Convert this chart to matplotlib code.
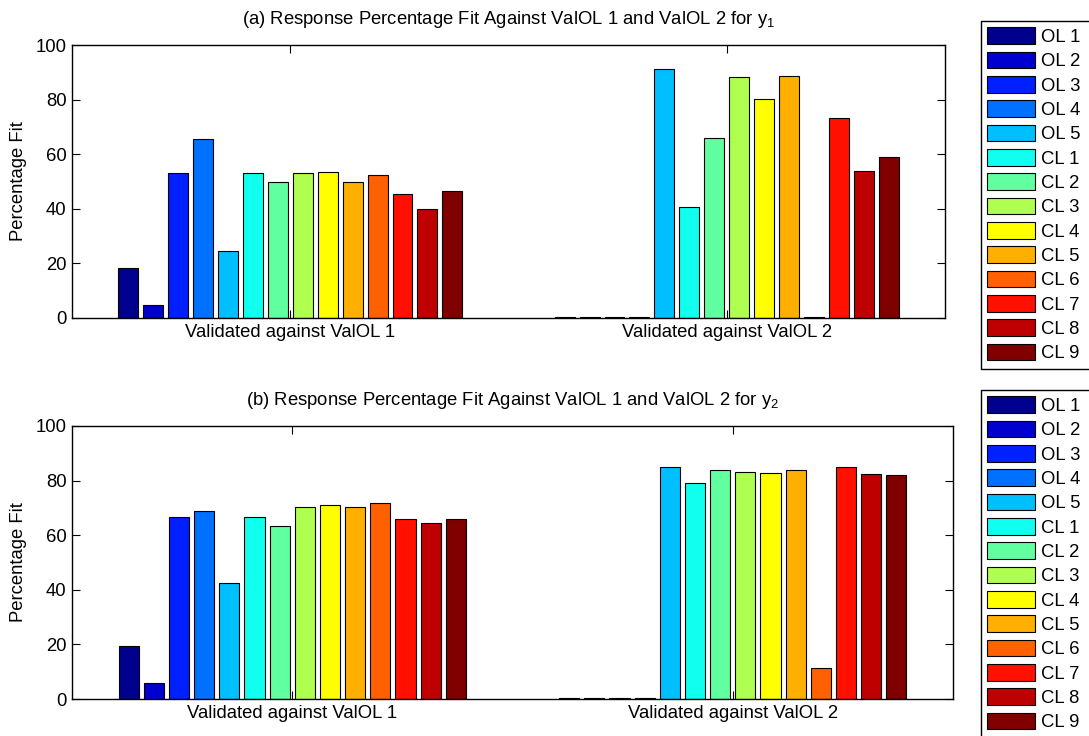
import numpy as np
import matplotlib
matplotlib.use('Agg')
import matplotlib.pyplot as plt

plt.rcParams['font.family'] = ['Liberation Sans', 'DejaVu Sans']
plt.rcParams['mathtext.fontset'] = 'custom'
plt.rcParams['mathtext.rm'] = 'Liberation Sans'
plt.rcParams['mathtext.it'] = 'Liberation Sans'
plt.rcParams['mathtext.default'] = 'regular'

series = ['OL 1', 'OL 2', 'OL 3', 'OL 4', 'OL 5',
          'CL 1', 'CL 2', 'CL 3', 'CL 4', 'CL 5', 'CL 6', 'CL 7', 'CL 8', 'CL 9']
groups = ['Validated against ValOL 1', 'Validated against ValOL 2']

y1_val1 = [18.4, 4.8, 53.2, 65.4, 24.7, 53.0, 49.7, 53.1, 53.5, 49.7, 52.4, 45.6, 39.9, 46.7]
y1_val2 = [0.3, 0.3, 0.3, 0.3, 91.1, 40.8, 66.0, 88.3, 80.4, 88.5, 0.3, 73.2, 53.9, 59.0]
y2_val1 = [19.4, 5.8, 66.8, 68.8, 42.6, 66.5, 63.3, 70.3, 71.1, 70.5, 71.9, 66.0, 64.3, 66.0]
y2_val2 = [0.3, 0.3, 0.3, 0.3, 84.9, 79.1, 83.7, 83.2, 82.9, 83.7, 11.2, 84.9, 82.5, 81.9]

titles = [r'(a) Response Percentage Fit Against ValOL 1 and ValOL 2 for $y_1$',
          r'(b) Response Percentage Fit Against ValOL 1 and ValOL 2 for $y_2$']


def matlab_jet(m=64):
    # same construction as matlab's jet(m)
    n = int(np.ceil(m / 4.0))
    u = np.concatenate([np.arange(1, n + 1) / n, np.ones(n - 1), np.arange(n, 0, -1) / n])
    g = int(np.ceil(n / 2.0)) - (1 if m % 4 == 1 else 0) + np.arange(1, len(u) + 1)
    r = g + n
    b = g - n
    J = np.zeros((m, 3))
    for idx, col in ((r, 0), (g, 1), (b, 2)):
        ok = (idx >= 1) & (idx <= m)
        J[idx[ok] - 1, col] = u[ok]
    return J


cmap = matlab_jet(64)
nser = len(series)
colors = [cmap[min(int((k * 64) // (nser - 1)), 63)] for k in range(nser)]


def draw_panel(ax, v1, v2, title, leg_top):
    x = np.arange(1, len(groups) + 1)
    gw = min(0.8, nser / (nser + 1.5))
    d = gw / nser
    for k in range(nser):
        off = (k - (nser - 1) / 2.0) * d
        ax.bar(x + off, [v1[k], v2[k]], width=d * 0.8, color=colors[k],
               edgecolor='k', linewidth=0.8, label=series[k])
    ax.set_xlim(0.5, 2.5)
    ax.set_ylim(0, 100)
    ax.set_xticks(x)
    ax.set_xticklabels(groups)
    ax.set_yticks(np.arange(0, 101, 20))
    ax.tick_params(direction='in', top=True, right=True, length=6, width=0.8,
                   labelsize=13.3, pad=4)
    for s in ax.spines.values():
        s.set_linewidth(1.0)
    ax.set_ylabel('Percentage Fit', fontsize=13.3, labelpad=6)
    ax.set_title(title, fontsize=13.3, pad=15)
    leg = ax.legend(loc='upper left', bbox_to_anchor=(981 / 1089., leg_top, 0.3, 0),
                    bbox_transform=fig.transFigure, mode='expand', borderaxespad=0,
                    fontsize=13.3, handlelength=2.6, handleheight=1.0, handletextpad=0.3,
                    labelspacing=0.31, borderpad=0.35, fancybox=False, framealpha=1,
                    edgecolor='k')
    leg.get_frame().set_linewidth(1.0)


fig = plt.figure(figsize=(10.89, 7.36), dpi=100)
ax1 = fig.add_axes([72 / 1089., 1 - 318 / 736., 873 / 1089., 273 / 736.])
ax2 = fig.add_axes([72 / 1089., 1 - 699 / 736., 881 / 1089., 273 / 736.])

draw_panel(ax1, y1_val1, y1_val2, titles[0], 1 - 21 / 736.)
draw_panel(ax2, y2_val1, y2_val2, titles[1], 1 - 390 / 736.)

fig.savefig('out.png', dpi=100)
